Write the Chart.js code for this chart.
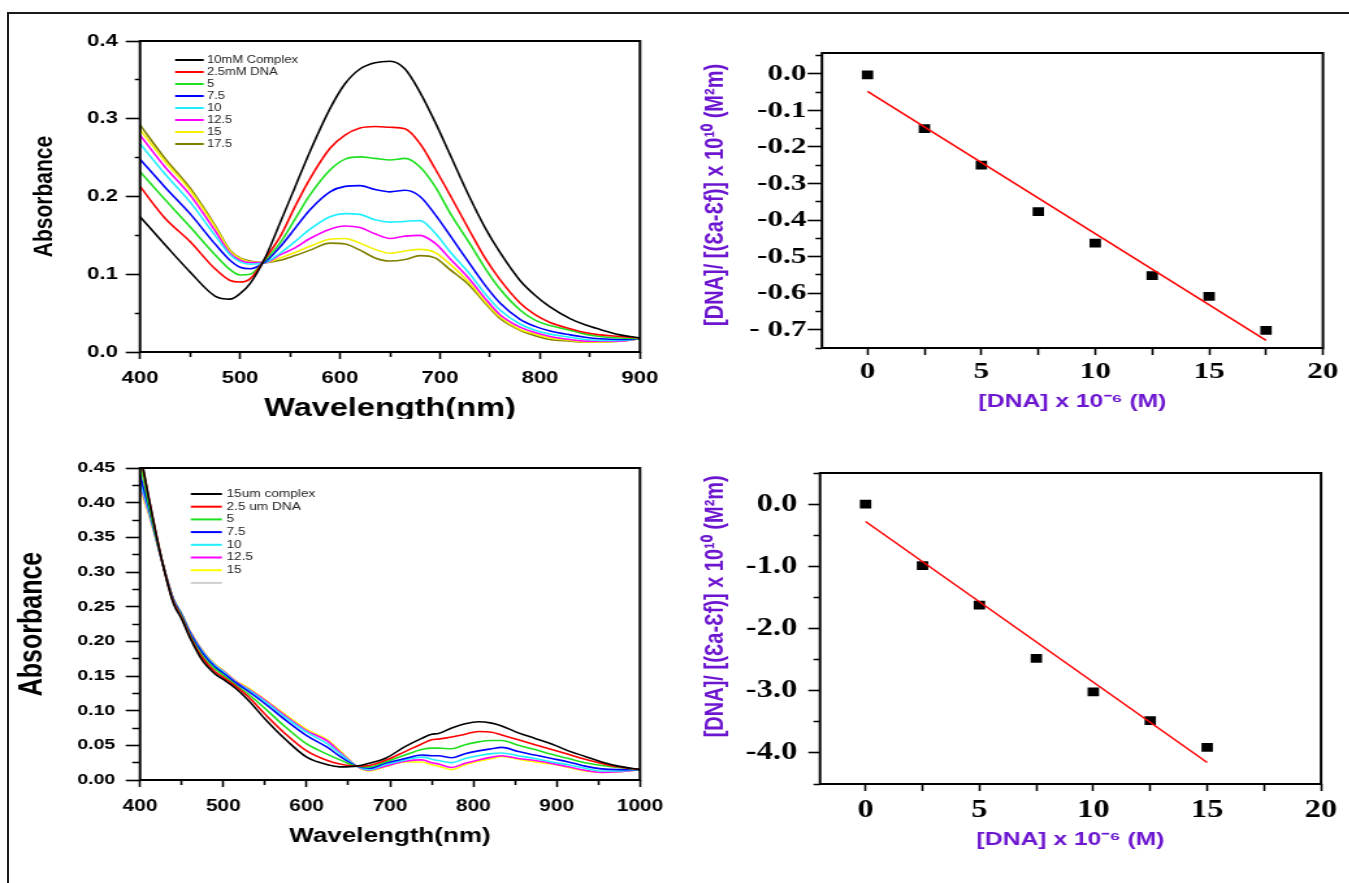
<!DOCTYPE html>
<html>
<head>
<meta charset="utf-8">
<script src="https://cdn.jsdelivr.net/npm/chart.js@4.4.1/dist/chart.umd.min.js"></script>
<style>
  html, body { margin: 0; padding: 0; background: #fff; }
  #page { position: relative; width: 1349px; height: 883px; overflow: hidden; background: #fff; }
  .panel { position: absolute; overflow: hidden; }
  /* the source figure is stretched sideways, so every panel is drawn narrow and scaled */
  .panel canvas { transform: scaleX(1.3); transform-origin: 0 0; }
  .rule { position: absolute; background: #1a1a1a; }
</style>
</head>
<body>
<div id="page">
  <div class="rule" style="left:7px;top:12px;width:1342px;height:2px"></div>
  <div class="rule" style="left:7px;top:12px;width:2px;height:871px"></div>
  <div class="panel" style="left:0;top:0;width:680px;height:419px"><canvas id="c1" width="523" height="440"></canvas></div>
  <div class="panel" style="left:680px;top:0;width:669px;height:430px"><canvas id="c2" width="515" height="430"></canvas></div>
  <div class="panel" style="left:0;top:440px;width:680px;height:443px"><canvas id="c3" width="523" height="443"></canvas></div>
  <div class="panel" style="left:680px;top:440px;width:669px;height:443px"><canvas id="c4" width="515" height="443"></canvas></div>
</div>
<script>
const SANS = "'Liberation Sans', Arial, sans-serif"
const SERIF = "'Liberation Serif', 'Times New Roman', serif"
const PURPLE = '#6c17cf'
const COLORS = ['#000000', '#ff0000', '#1ee01e', '#0000ff', '#22eeff', '#ff00ff', '#f5f000', '#808000']

// top-left: 10mM complex + DNA
const topWavelength = [400, 425, 450, 475, 490, 500, 510, 525, 540, 555, 570, 590, 605, 620, 635, 650, 665, 680, 695, 710, 730, 745, 760, 780, 795, 810, 830, 845, 860, 880, 900]
const topComplex = [.174, .138, .103, .072, .068, .075, .088, .121, .166, .212, .258, .313, .345, .364, .372, .374, .364, .334, .296, .254, .198, .160, .128, .092, .073, .058, .043, .035, .029, .022, .018]
const topDna2_5 = [.213, .172, .142, .107, .092, .090, .094, .120, .148, .187, .223, .262, .279, .288, .290, .289, .287, .268, .236, .202, .155, .121, .093, .063, .048, .038, .030, .025, .022, .020, .018]
const topDna5 = [.232, .196, .161, .125, .106, .099, .100, .118, .140, .171, .202, .234, .248, .251, .249, .247, .249, .238, .213, .179, .139, .108, .081, .054, .041, .034, .028, .023, .020, .018, .017]
const topDna7_5 = [.248, .212, .178, .139, .118, .109, .107, .116, .135, .159, .183, .206, .213, .214, .209, .206, .208, .200, .177, .150, .113, .086, .063, .042, .033, .027, .022, .019, .017, .016, .017]
const topDna10 = [.268, .229, .193, .150, .125, .116, .113, .115, .127, .142, .158, .174, .178, .177, .170, .167, .168, .169, .153, .129, .100, .075, .054, .036, .028, .023, .019, .016, .015, .015, .017]
const topDna12_5 = [.279, .238, .202, .156, .127, .118, .115, .115, .125, .134, .146, .158, .162, .160, .152, .146, .149, .150, .140, .120, .093, .069, .048, .032, .025, .020, .016, .014, .014, .014, .017]
const topDna15 = [.286, .245, .208, .161, .130, .120, .116, .115, .121, .128, .136, .145, .146, .140, .132, .127, .130, .132, .128, .113, .088, .065, .045, .029, .023, .018, .015, .013, .013, .014, .017]
const topDna17_5 = [.292, .249, .211, .163, .131, .121, .117, .115, .118, .124, .131, .140, .139, .131, .121, .117, .119, .124, .121, .106, .085, .063, .043, .028, .021, .016, .014, .013, .013, .014, .017]
const topLabels = ['10mM Complex', '2.5mM DNA', '5', '7.5', '10', '12.5', '15', '17.5']

// bottom-left: 15um complex + DNA
const botWavelength = [400, 410, 427, 440, 450, 460, 475, 490, 500, 515, 530, 550, 575, 600, 625, 640, 660, 675, 694, 718, 738, 750, 758, 774, 790, 806, 822, 834, 854, 874, 894, 914, 934, 954, 974, 1000]
const botComplex = [.475, .41, .313, .255, .232, .205, .172, .153, .145, .132, .115, .088, .058, .033, .022, .019, .020, .024, .031, .048, .060, .066, .067, .075, .081, .084, .082, .078, .068, .060, .052, .042, .034, .026, .020, .015]
const botDna2_5 = [.47, .41, .313, .257, .234, .207, .176, .156, .148, .135, .120, .095, .066, .042, .028, .023, .020, .021, .028, .041, .052, .058, .059, .062, .066, .070, .069, .065, .058, .051, .044, .037, .030, .024, .019, .015]
const botDna5 = [.46, .40, .313, .258, .236, .209, .179, .160, .151, .137, .124, .103, .076, .052, .037, .029, .020, .019, .026, .036, .044, .046, .046, .045, .051, .055, .057, .057, .050, .044, .037, .031, .025, .021, .018, .015]
const botDna7_5 = [.44, .395, .313, .260, .238, .212, .183, .163, .154, .140, .128, .110, .086, .064, .047, .034, .020, .017, .024, .031, .036, .035, .035, .032, .038, .042, .045, .047, .041, .036, .031, .026, .020, .016, .015, .015]
const botDna10 = [.43, .39, .313, .261, .239, .213, .185, .165, .156, .141, .130, .113, .090, .069, .052, .038, .020, .015, .022, .029, .033, .030, .028, .025, .031, .035, .038, .039, .035, .031, .026, .022, .017, .013, .013, .015]
const botDna12_5 = [.425, .388, .313, .261, .239, .214, .186, .166, .157, .142, .131, .115, .092, .071, .056, .040, .020, .014, .020, .027, .029, .025, .023, .018, .024, .029, .033, .035, .031, .028, .024, .019, .014, .011, .012, .015]
const botDna15 = [.42, .385, .313, .262, .240, .215, .187, .167, .158, .143, .133, .116, .094, .073, .058, .042, .020, .013, .019, .026, .026, .022, .020, .015, .022, .027, .031, .034, .030, .026, .023, .018, .013, .011, .012, .015]
const botLabels = ['15um complex', '2.5 um DNA', '5', '7.5', '10', '12.5', '15']

// right: [DNA]/(Ea-Ef) against [DNA]
const topDna = [0, 2.5, 5, 7.5, 10, 12.5, 15, 17.5]
const topRatio = [-0.003, -0.150, -0.250, -0.377, -0.463, -0.552, -0.609, -0.702]
const topFitX = [0, 17.5]
const topFitY = [-0.048, -0.729]
const botDna = [0, 2.5, 5, 7.5, 10, 12.5, 15]
const botRatio = [0.0, -0.99, -1.626, -2.48, -3.02, -3.48, -3.91]
const botFitX = [0, 15]
const botFitY = [-0.28, -4.155]

// tick positions
const topXMajor = [400, 500, 600, 700, 800, 900]
const topXMinor = [450, 550, 650, 750, 850]
const topYMajor = [0, 0.1, 0.2, 0.3, 0.4]
const topYMinor = [0.05, 0.15, 0.25, 0.35]
const botXMajor = [400, 500, 600, 700, 800, 900, 1000]
const botXMinor = [450, 550, 650, 750, 850, 950]
const botYMajor = [0, 0.05, 0.1, 0.15, 0.2, 0.25, 0.3, 0.35, 0.4, 0.45]
const botYMinor = [0.025, 0.075, 0.125, 0.175, 0.225, 0.275, 0.325, 0.375, 0.425]
const dnaXMajor = [0, 5, 10, 15, 20]
const dnaXMinor = [2.5, 7.5, 12.5, 17.5]
const topRatioMajor = [-0.7, -0.6, -0.5, -0.4, -0.3, -0.2, -0.1, 0]
const topRatioMinor = [-0.75, -0.65, -0.55, -0.45, -0.35, -0.25, -0.15, -0.05, 0.05]
const botRatioMajor = [-4, -3, -2, -1, 0]
const botRatioMinor = [-4.5, -3.5, -2.5, -1.5, -0.5, 0.5]

const Y_TITLE = '[DNA]/ [(Ɛa-Ɛf)] x 10¹⁰ (M²m)'
const X_TITLE = '[DNA] x 10⁻⁶ (M)'

// box round the plot area
const frame = {
  id: 'frame',
  afterDraw(chart) {
    const { ctx, chartArea: a } = chart
    ctx.save()
    ctx.strokeStyle = '#000'
    ctx.lineWidth = 2
    ctx.strokeRect(a.left, a.top, a.right - a.left, a.bottom - a.top)
    ctx.restore()
  }
}

// legend drawn inside the plot area, top left
const insideLegend = {
  id: 'insideLegend',
  afterDraw(chart, args, o) {
    if (!o || !o.step) return
    const { ctx, chartArea: a } = chart
    ctx.save()
    ctx.font = o.font
    ctx.textBaseline = 'middle'
    chart.data.datasets.forEach((d, i) => {
      const y = a.top + o.top + i * o.step
      const x = a.left + o.left
      ctx.strokeStyle = d.borderColor
      ctx.lineWidth = 2
      ctx.beginPath()
      ctx.moveTo(x, y)
      ctx.lineTo(x + o.len, y)
      ctx.stroke()
      ctx.fillStyle = '#222'
      ctx.fillText(d.label, x + o.len + o.gap, y)
    })
    ctx.restore()
  }
}

function axis(o) {
  const vals = o.major.concat(o.minor).sort((a, b) => a - b)
  const dash = o.side === 'y' ? [0, o.len - o.minorLen, o.minorLen, 1000] : [o.minorLen, 1000]
  return {
    type: 'linear',
    min: o.min,
    max: o.max,
    afterBuildTicks: s => { s.ticks = vals.map(v => ({ value: v })) },
    afterFit: s => { if (o.side === 'y') s.width = o.fit; else s.height = o.fit },
    border: { display: false },
    grid: {
      drawOnChartArea: false,
      tickLength: o.len,
      tickWidth: 1.6,
      tickColor: '#000',
      tickBorderDash: c => (c.tick && !o.major.includes(c.tick.value)) ? dash : [],
    },
    ticks: {
      color: '#000',
      padding: o.pad,
      autoSkip: false,
      maxRotation: 0,
      minRotation: 0,
      font: { family: o.family, size: o.size, weight: 'bold' },
      callback: v => o.major.includes(v) ? o.fmt(v) : '',
    },
    title: o.title,
  }
}

const curve = (wl, ys, i, label) => ({
  label,
  data: wl.map((x, k) => ({ x, y: ys[k] })),
  borderColor: COLORS[i],
  borderWidth: 1.6,
  pointRadius: 0,
  cubicInterpolationMode: 'monotone',
  fill: false,
})

const base = {
  responsive: false,
  animation: false,
  events: [],
}

const topSeries = [topComplex, topDna2_5, topDna5, topDna7_5, topDna10, topDna12_5, topDna15, topDna17_5]
new Chart(document.getElementById('c1'), {
  type: 'line',
  data: { datasets: topSeries.map((ys, i) => curve(topWavelength, ys, i, topLabels[i])) },
  options: {
    ...base,
    layout: { padding: { left: 8, right: 30.7, top: 41, bottom: 10 } },
    plugins: {
      legend: { display: false },
      tooltip: { enabled: false },
      insideLegend: { left: 27, top: 19, step: 12, len: 22, gap: 2.5, font: `10px ${SANS}` },
    },
    scales: {
      x: axis({ side: 'x', min: 400, max: 900, major: topXMajor, minor: topXMinor, len: 7, minorLen: 5,
        pad: 9, fit: 78, family: SANS, size: 17, fmt: v => String(v),
        title: { display: true, text: 'Wavelength(nm)', color: '#000', padding: { top: 0, bottom: 6 },
          font: { family: SANS, size: 25, weight: 'bold' } } }),
      y: axis({ side: 'y', min: 0, max: 0.4, major: topYMajor, minor: topYMinor, len: 11, minorLen: 4,
        pad: 6, fit: 99.7, family: SANS, size: 17, fmt: v => v.toFixed(1),
        title: { display: true, text: 'Absorbance', color: '#000', padding: { top: 14, bottom: 0 },
          font: { family: SANS, size: 21, weight: 'bold' } } }),
    },
  },
  plugins: [frame, insideLegend],
})

const botSeries = [botComplex, botDna2_5, botDna5, botDna7_5, botDna10, botDna12_5, botDna15]
const botSets = botSeries.map((ys, i) => curve(botWavelength, ys, i, botLabels[i]))
botSets[6].borderColor = '#ffff00'
botSets.push({ label: '', data: [], borderColor: '#cfcfcf', borderWidth: 1.5, pointRadius: 0 })
new Chart(document.getElementById('c3'), {
  type: 'line',
  data: { datasets: botSets },
  options: {
    ...base,
    layout: { padding: { left: 6, right: 30.7, top: 28, bottom: 30 } },
    plugins: {
      legend: { display: false },
      tooltip: { enabled: false },
      insideLegend: { left: 39, top: 26, step: 12.7, len: 24, gap: 3.5, font: `10.5px ${SANS}` },
    },
    scales: {
      x: axis({ side: 'x', min: 400, max: 1000, major: botXMajor, minor: botXMinor, len: 7, minorLen: 5,
        pad: 10, fit: 73, family: SANS, size: 16, fmt: v => String(v),
        title: { display: true, text: 'Wavelength(nm)', color: '#000', padding: { top: 0, bottom: 5 },
          font: { family: SANS, size: 20, weight: 'bold' } } }),
      y: axis({ side: 'y', min: 0, max: 0.45, major: botYMajor, minor: botYMinor, len: 11, minorLen: 6,
        pad: 8, fit: 101.7, family: SANS, size: 15, fmt: v => v.toFixed(2),
        title: { display: true, text: 'Absorbance', color: '#000', padding: { top: 4, bottom: 0 },
          font: { family: SANS, size: 25, weight: 'bold' } } }),
    },
  },
  plugins: [frame, insideLegend],
})

function bindingChart(id, xs, ys, fitX, fitY, o) {
  return new Chart(document.getElementById(id), {
    type: 'scatter',
    data: {
      datasets: [
        { type: 'line', data: fitX.map((x, i) => ({ x, y: fitY[i] })), borderColor: '#ff0000',
          borderWidth: 1.5, pointRadius: 0, fill: false },
        { data: xs.map((x, i) => ({ x, y: ys[i] })), pointStyle: 'rect', pointRadius: 6.2,
          backgroundColor: '#000', borderWidth: 0 },
      ]
    },
    options: {
      ...base,
      layout: { padding: o.padding },
      plugins: { legend: { display: false }, tooltip: { enabled: false } },
      scales: {
        x: axis({ side: 'x', min: -2, max: 20, major: dnaXMajor, minor: dnaXMinor, len: 7, minorLen: 7,
          pad: o.xPad, fit: o.xFit, family: SERIF, size: o.size, fmt: v => String(v),
          title: { display: true, text: X_TITLE, color: PURPLE, padding: { top: 0, bottom: o.xTitlePad },
            font: { family: SANS, size: 19, weight: 'bold' } } }),
        y: axis({ side: 'y', min: o.yMin, max: o.yMax, major: o.yMajor, minor: o.yMinor, len: o.yLen, minorLen: 5,
          pad: o.yPad, fit: o.yFit, family: SERIF, size: o.size, fmt: o.fmt,
          title: { display: true, text: o.yTitle, color: PURPLE, padding: { top: 9.7, bottom: 0 },
            font: { family: SANS, size: 20, weight: 'bold' } } }),
      },
    },
    plugins: [frame],
  })
}

bindingChart('c2', topDna, topRatio, topFitX, topFitY, {
  padding: { left: 6, right: 20.4, top: 53, bottom: 10 },
  size: 24, xPad: 2.3, xFit: 72, xTitlePad: 6.6,
  yMin: -0.75, yMax: 0.057, yMajor: topRatioMajor, yMinor: topRatioMinor, yLen: 11, yPad: 1, yFit: 103.2,
  fmt: v => v === -0.7 ? '- 0.7' : v.toFixed(1),
  yTitle: '  ' + Y_TITLE,
})

bindingChart('c4', botDna, botRatio, botFitX, botFitY, {
  padding: { left: 6, right: 21.9, top: 33, bottom: 20 },
  size: 25, xPad: 4.7, xFit: 79, xTitlePad: 11.6,
  yMin: -4.5, yMax: 0.5, yMajor: botRatioMajor, yMinor: botRatioMinor, yLen: 9, yPad: 8.5, yFit: 101.7,
  fmt: v => v.toFixed(1),
  yTitle: '        ' + Y_TITLE,
})
</script>
</body>
</html>
